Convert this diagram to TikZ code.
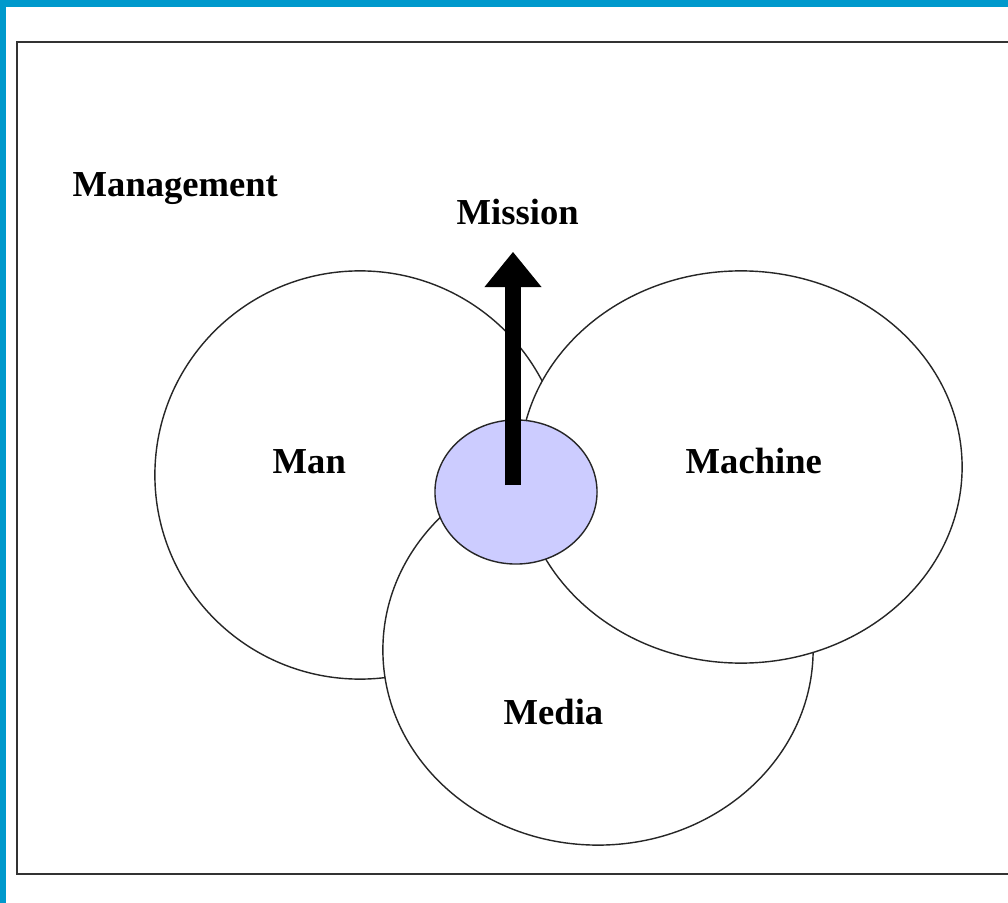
\documentclass[tikz,border=0pt]{standalone}
\usepackage{fontspec}
\setmainfont{Liberation Serif}
\usepackage{tikz}
\usetikzlibrary{shapes}
\usetikzlibrary{arrows.meta}
\definecolor{edgeblue}{HTML}{0099CC}
\definecolor{corefill}{RGB}{204,204,255}

\begin{document}
\begin{tikzpicture}[x=0.01cm, y=-0.01cm,
  blob/.style={ellipse, draw=black!85, line width=0.4pt, fill=white, inner sep=0pt},
  word/.style={anchor=base west, inner sep=0pt, font=\fontsize{10.4}{12}\selectfont\bfseries}]

 %background and frame
 \useasboundingbox (0,0) rectangle (1008,903);
 \fill[edgeblue] (0,0) rectangle (1008,903);
 \fill[white] (6,7) rectangle (1008,903);
 \draw[black!80, line width=0.6pt] (1008,42) -- (17,42) -- (17,874) -- (1008,874);

 %the three circles
    \foreach \name/\cx/\cy/\w/\h in {man/360/475/4.10/4.08, media/598/650/4.30/3.90, machine/741/467/4.42/3.92}{
         \node[blob, minimum width=\w cm, minimum height=\h cm] (\name) at (\cx,\cy) {};
    }
 \node[blob, fill=corefill, minimum width=1.62cm, minimum height=1.44cm] (core) at (516,492) {};

 %labels
    \foreach \x/\y/\txt/\name in {72/196/Management/lmgmt, 456/225/Mission/lmission, 272/473/Man/lman, 685/473/Machine/lmachine, 503/725/Media/lmedia}{
         \node[word] (\name) at (\x,\y) {\txt};
    }

 %arrow
 \coordinate (base) at (513,485);
 \coordinate (tip) at (513,252);
 \draw[line width=0.15cm, -{Triangle[width=0.57cm, length=0.35cm, line width=0pt]}] (base) -- (tip);

\end{tikzpicture}
\end{document}
